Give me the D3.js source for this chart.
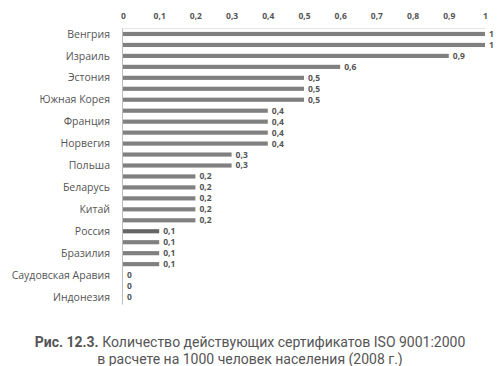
<!DOCTYPE html>
<html>
<head>
<meta charset="utf-8">
<script src="https://cdn.jsdelivr.net/npm/d3@7"></script>
<style>
  body { margin: 0; background: #fff; }
  text { font-family: "Open Sans", sans-serif; fill: #555; }
</style>
</head>
<body>
<svg id="chart" width="500" height="366"></svg>
<script>
// 25 rows, only every other one has a name in the picture
const categories = ["Венгрия", "", "Израиль", "", "Эстония", "", "Южная Корея", "", "Франция", "",
  "Норвегия", "", "Польша", "", "Беларусь", "", "Китай", "", "Россия", "", "Бразилия", "",
  "Саудовская Аравия", "", "Индонезия"];
const values = [1, 1, 0.9, 0.6, 0.5, 0.5, 0.5, 0.4, 0.4, 0.4, 0.4, 0.3, 0.3,
  0.2, 0.2, 0.2, 0.2, 0.2, 0.1, 0.1, 0.1, 0.1, 0, 0, 0];
const xTicks = [0, 0.1, 0.2, 0.3, 0.4, 0.5, 0.6, 0.7, 0.8, 0.9, 1];
const highlight = "Россия";
const titleBold = "Рис. 12.3.";
const titleRest = " Количество действующих сертификатов ISO 9001:2000";
const titleLine2 = "в расчете на 1000 человек населения (2008 г.)";

const fmt = v => String(v).replace(".", ",");
const rows = values.map((v, i) => ({ key: i, name: categories[i], value: v }));

const svg = d3.select("#chart");
const plotL = 123, plotR = 485, plotT = 28.5, plotB = 302.5;

const x = d3.scaleLinear().domain([0, 1]).range([plotL, plotR]);
const y = d3.scaleBand().domain(rows.map(d => d.key)).range([plotT, plotB]).paddingInner(0.62).paddingOuter(0.31);

// faint top border
svg.append("line").attr("x1", plotL).attr("x2", plotR).attr("y1", plotT).attr("y2", plotT)
  .attr("stroke", "#e4e4e4").attr("stroke-width", 1);

// top axis labels
svg.append("g").attr("transform", `translate(0,${plotT})`)
  .call(d3.axisTop(x).tickValues(xTicks).tickFormat(fmt).tickSize(0).tickPadding(10))
  .call(g => g.select(".domain").remove())
  .selectAll("text").style("font-size", "8.5px").style("font-weight", "bold")
  .style("font-family", "'Open Sans', sans-serif").attr("fill", "#555");

// bars
svg.selectAll(".bar").data(rows).join("rect").attr("class", "bar")
  .attr("x", x(0)).attr("y", d => y(d.key))
  .attr("width", d => x(d.value) - x(0)).attr("height", y.bandwidth())
  .attr("fill", (d, i) => categories[i] === highlight ? "#666" : "#808080");

// value labels
svg.selectAll(".val").data(rows).join("text").attr("class", "val")
  .attr("x", d => x(d.value) + 4).attr("y", d => y(d.key) + y.bandwidth() / 2)
  .attr("dy", "0.35em").style("font-size", "8.5px").style("font-weight", "bold")
  .text(d => fmt(d.value));

// vertical axis line
svg.append("line").attr("x1", plotL - 0.5).attr("x2", plotL - 0.5).attr("y1", plotT).attr("y2", plotB + 2)
  .attr("stroke", "#bbb").attr("stroke-width", 1);

// category labels
svg.selectAll(".cat").data(rows.filter(d => d.name)).join("text").attr("class", "cat")
  .attr("x", 110).attr("y", d => y(d.key) + y.bandwidth() / 2)
  .attr("dy", "0.35em").attr("text-anchor", "end").style("font-size", "10.5px")
  .text(d => d.name);

// caption
const cap = svg.append("text").attr("x", 250).attr("y", 347).attr("text-anchor", "middle")
  .style("font-family", "Roboto, sans-serif").style("font-size", "14px");
cap.append("tspan").style("font-weight", "bold").text(titleBold);
cap.append("tspan").text(titleRest);
svg.append("text").attr("x", 250).attr("y", 364).attr("text-anchor", "middle")
  .style("font-family", "Roboto, sans-serif").style("font-size", "14px").text(titleLine2);
</script>
</body>
</html>
